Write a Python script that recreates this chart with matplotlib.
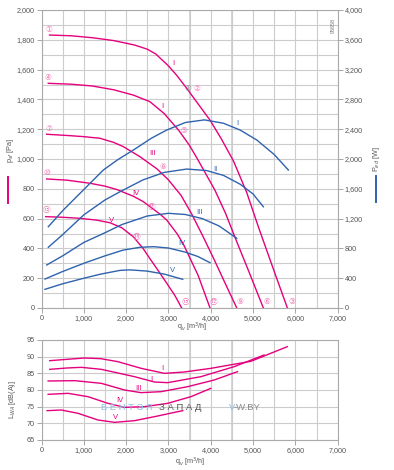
import matplotlib
matplotlib.use("Agg")
import matplotlib.pyplot as plt
from matplotlib.ticker import FuncFormatter, MultipleLocator
from matplotlib.lines import Line2D

plt.rcParams['font.family'] = ['Liberation Sans', 'DejaVu Sans', 'Noto Sans CJK SC']

# ---------------- data ----------------
# pressure curves p_sf [Pa] vs q_v [m3/h]
pI_q  = [190, 700, 1200, 1700, 2200, 2500, 2700, 3000, 3200, 3430, 3700, 3980, 4250, 4540, 4850, 5125, 5450, 5811]
pI_p  = [1832, 1827, 1814, 1795, 1765, 1737, 1705, 1625, 1560, 1475, 1370, 1262, 1135, 985, 775, 545, 285, 0]
pII_q = [160, 700, 1200, 1700, 2170, 2560, 2900, 3250, 3500, 3700, 4100, 4350, 4600, 4900, 5243]
pII_p = [1508, 1502, 1490, 1465, 1429, 1385, 1305, 1190, 1090, 993, 790, 635, 455, 245, 0]
pIII_q = [123, 600, 1000, 1383, 1700, 1934, 2329, 2723, 3000, 3300, 3551, 3800, 4090, 4350, 4615]
pIII_p = [1166, 1158, 1150, 1139, 1112, 1083, 1015, 935, 860, 755, 630, 490, 319, 160, 0]
pIV_q = [123, 600, 1150, 1500, 1780, 2170, 2400, 2565, 2800, 2960, 3200, 3350, 3500, 3700, 3983]
pIV_p = [866, 858, 837, 818, 795, 750, 715, 680, 630, 590, 500, 430, 340, 220, 0]
pV_q  = [100, 500, 900, 1300, 1619, 1900, 2170, 2400, 2565, 2760, 2960, 3150, 3314]
pV_p  = [613, 609, 602, 590, 572, 538, 478, 400, 330, 250, 166, 85, 0]

# power curves P_ed [W]
wI_q  = [161, 515, 1000, 1461, 1800, 2170, 2600, 2960, 3400, 3850, 4300, 4693, 5088, 5500, 5834]
wI_w  = [1091, 1315, 1590, 1852, 1990, 2120, 2280, 2389, 2490, 2525, 2480, 2389, 2255, 2060, 1852]
wII_q = [161, 500, 1000, 1500, 1856, 2400, 2900, 3433, 3900, 4300, 4700, 5000, 5243]
wII_w = [815, 985, 1250, 1450, 1561, 1720, 1820, 1865, 1845, 1780, 1660, 1530, 1359]
wIII_q = [123, 500, 1000, 1500, 1900, 2500, 3000, 3400, 3800, 4200, 4615]
wIII_w = [577, 700, 880, 1010, 1120, 1235, 1271, 1255, 1200, 1100, 935]
wIV_q = [83, 500, 1000, 1500, 1934, 2329, 2650, 3000, 3400, 3700, 3983]
wIV_w = [389, 490, 600, 700, 778, 815, 823, 805, 750, 690, 608]
wV_q  = [83, 500, 988, 1400, 1856, 2092, 2500, 2900, 3338]
wV_w  = [251, 325, 398, 455, 505, 512, 495, 455, 385]

# sound power L_WA [dB(A)]
lI_q  = [196, 600, 1020, 1400, 1805, 2355, 2905, 3375, 4004, 4946, 5809]
lI_l  = [88.8, 89.2, 89.6, 89.4, 88.5, 86.5, 85.0, 85.4, 86.5, 88.6, 93.0]
lII_q = [196, 600, 942, 1413, 2198, 2669, 2983, 3768, 4553, 5260]
lII_l = [86.2, 86.6, 86.8, 86.2, 84.0, 82.4, 82.2, 84.0, 87.0, 90.5]
lIII_q = [157, 785, 1413, 1963, 2355, 2826, 3454, 4082, 4632]
lIII_l = [82.7, 82.8, 82.0, 80.0, 79.2, 79.5, 81.0, 83.0, 85.5]
lIV_q = [157, 628, 1099, 1570, 1963, 2434, 2983, 3532, 4003]
lIV_l = [78.7, 79.0, 78.0, 76.0, 74.8, 75.0, 76.0, 78.0, 80.5]
lV_q  = [133, 471, 864, 1335, 1727, 2198, 2748, 3219, 3340]
lV_l  = [73.8, 74.0, 73.0, 71.0, 70.3, 70.8, 72.2, 73.5, 73.8]

curve_names = ["I", "I", "III", "IV", "V"]
blue_names = ["I", "II", "III", "IV", "V"]

# circled operating point markers (q, p)
pt_labels = ["①", "④", "⑦", "⑩", "⑬", "②", "⑤", "⑧", "⑪", "⑭", "③", "⑥", "⑨", "⑫", "⑮"]
pt_q = [184, 147, 170, 123, 123, 3669, 3376, 2880, 2605, 2250, 5915, 5338, 4693, 4061, 3416]
pt_p = [1870, 1548, 1206, 908, 658, 1474, 1188, 953, 680, 483, 42, 42, 42, 42, 42]
gray_pt = ("①", 3456, 1474)

pink_lab_q = [3116, 2865, 2620, 2234, 1660]
pink_lab_p = [1642, 1351, 1038, 770, 590]
blue_lab_q = [4638, 4102, 3731, 3314, 3102]
blue_lab_w = [2478, 1861, 1279, 868, 510]
snd_lab_q = [2850, 2600, 2300, 1850, 1750]
snd_lab_l = [86.3, 83.2, 80.4, 77.0, 71.8]

PINK = "#e5007d"
PINK_L = "#f075b5"
BLUE = "#2f63ad"
GRID = "#cccccc"
TXT = "#555555"

W, H = 394, 470
fig = plt.figure(figsize=(W / 100, H / 100), dpi=100)

def frac(x0, y0, x1, y1):
    return [x0 / W, 1 - y1 / H, (x1 - x0) / W, (y1 - y0) / H]

fmt = FuncFormatter(lambda v, p: f"{v:,.0f}")
TS = 5.2

def style(ax):
    ax.set_xlim(0, 7000)
    ax.xaxis.set_major_locator(MultipleLocator(1000))
    ax.xaxis.set_minor_locator(MultipleLocator(500))
    ax.xaxis.set_major_formatter(fmt)
    ax.grid(True, which="both", color=GRID, lw=0.8, zorder=0)
    for s in ax.spines.values():
        s.set_color("#aaaaaa")
        s.set_linewidth(0.8)
    ax.tick_params(which="both", colors="#999999", labelcolor=TXT, labelsize=TS,
                   length=3.5, width=0.6, pad=1.5)
    ax.tick_params(which="minor", length=0)
    ax.set_axisbelow(True)

# ---------------- top chart ----------------
ax = fig.add_axes(frac(41.5, 10, 337.7, 308))
style(ax)
ax.set_ylim(0, 2000)
ax.yaxis.set_major_locator(MultipleLocator(200))
ax.yaxis.set_minor_locator(MultipleLocator(100))
ax.yaxis.set_major_formatter(fmt)
for x in (3500, 4500):
    ax.axvline(x, color="#d2d2d2", lw=1.3, zorder=0)

ax2 = ax.twinx()
ax2.set_ylim(0, 4000)
ax2.yaxis.set_major_locator(MultipleLocator(400))
ax2.yaxis.set_major_formatter(fmt)
for s in ax2.spines.values():
    s.set_visible(False)
ax2.tick_params(colors="#999999", labelcolor=TXT, labelsize=TS, length=3.5, width=0.6, pad=1.5)

pq = [pI_q, pII_q, pIII_q, pIV_q, pV_q]
pp = [pI_p, pII_p, pIII_p, pIV_p, pV_p]
for q, p in zip(pq, pp):
    ax.plot(q, p, color=PINK, lw=1.0, zorder=3, solid_joinstyle="round")

wq = [wI_q, wII_q, wIII_q, wIV_q, wV_q]
ww = [wI_w, wII_w, wIII_w, wIV_w, wV_w]
for q, w in zip(wq, ww):
    ax2.plot(q, w, color=BLUE, lw=1.0, zorder=3, solid_joinstyle="round")

for lab, q, p in zip(pt_labels, pt_q, pt_p):
    ax.text(q, p, lab, color=PINK_L, fontsize=5.5, ha="center", va="center",
            family=["DejaVu Sans", "Noto Sans CJK SC"], zorder=4)
ax.text(gray_pt[1], gray_pt[2], gray_pt[0], color="#8a8a8a", fontsize=5.5, ha="center",
        va="center", family=["DejaVu Sans", "Noto Sans CJK SC"], zorder=4)

for lab, q, p in zip(curve_names, pink_lab_q, pink_lab_p):
    ax.text(q, p, lab, color=PINK, fontsize=5.5, ha="center", va="center", zorder=4)
for lab, q, w in zip(blue_names, blue_lab_q, blue_lab_w):
    ax2.text(q, w, lab, color=BLUE, fontsize=5.5, ha="center", va="center", zorder=4)

ax.text(6900, 1950, "95658", rotation=90, fontsize=4, color="#777777", ha="center", va="top")

fig.text(192 / W, 1 - 327 / H, "q$_v$ [m$^3$/h]", fontsize=5.2, color=TXT, ha="center", va="center")
fig.text(10 / W, 1 - 150 / H, "p$_{sf}$ [Pa]", fontsize=5.2, color=TXT, rotation=90, ha="center", va="center")
fig.add_artist(Line2D([8.3 / W, 8.3 / W], [1 - 177 / H, 1 - 203 / H], color=PINK, lw=1.4))
fig.text(377 / W, 1 - 159 / H, "P$_{ed}$ [W]", fontsize=5.2, color=TXT, rotation=90, ha="center", va="center")
fig.add_artist(Line2D([376 / W, 376 / W], [1 - 176 / H, 1 - 202 / H], color=BLUE, lw=1.4))

# ---------------- bottom chart ----------------
bx = fig.add_axes(frac(41.5, 340, 337.7, 440))
style(bx)
bx.set_ylim(65, 95)
bx.yaxis.set_major_locator(MultipleLocator(5))
for x in (3500, 4500):
    bx.axvline(x, color="#d2d2d2", lw=1.3, zorder=0)

lq = [lI_q, lII_q, lIII_q, lIV_q, lV_q]
ll = [lI_l, lII_l, lIII_l, lIV_l, lV_l]
for q, l in zip(lq, ll):
    bx.plot(q, l, color=PINK, lw=1.0, zorder=3, solid_joinstyle="round")
for lab, q, l in zip(curve_names, snd_lab_q, snd_lab_l):
    bx.text(q, l, lab, color=PINK, fontsize=5.5, ha="center", va="center", zorder=4)

fig.text(190 / W, 1 - 462 / H, "q$_v$ [m$^3$/h]", fontsize=5.2, color=TXT, ha="center", va="center")
fig.text(13 / W, 1 - 400 / H, "L$_{WA}$ [dB(A)]", fontsize=5.2, color=TXT, rotation=90, ha="center", va="center")

# watermark
fig.text(101 / W, 1 - 408 / H, "В Е Н Т Э Л", fontsize=6.8, color="#8cbde6", ha="left", va="center")
fig.text(159 / W, 1 - 408 / H, "З А П А Д", fontsize=6.8, color="#555555", ha="left", va="center")
fig.text(229 / W, 1 - 408 / H, "V", fontsize=6.8, color="#8cbde6", ha="left", va="center")
fig.text(234 / W, 1 - 408 / H, "-W.BY", fontsize=6.8, color="#888888", ha="left", va="center")

fig.savefig("out.png", dpi=100)
